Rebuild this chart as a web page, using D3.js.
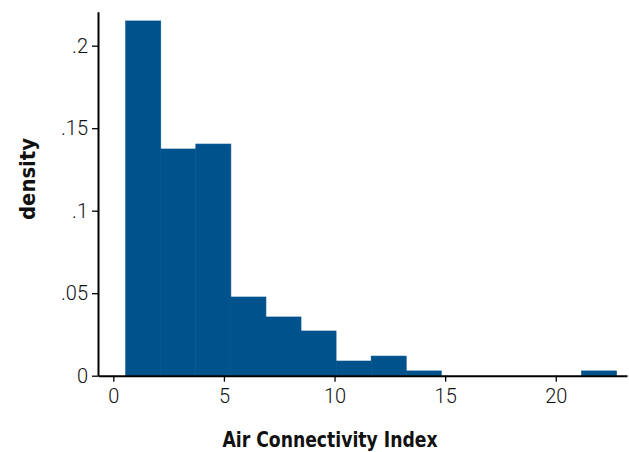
<!DOCTYPE html>
<html>
<head>
<meta charset="utf-8">
<script src="https://cdn.jsdelivr.net/npm/d3@7"></script>
<style>
  body { margin: 0; background: #fff; }
  .tick text { font-family: Roboto, "Open Sans", sans-serif; font-weight: 300; font-size: 20px; fill: #111; }
  .title { font-family: "DejaVu Sans Condensed", "Liberation Sans Narrow", sans-serif; font-stretch: condensed; font-weight: bold; font-size: 22px; fill: #111; }
</style>
</head>
<body>
<div id="chart"></div>
<script>
// histogram bins of the Air Connectivity Index
const binStart = 0.56;
const binWidth = 1.585;
const density = [0.215, 0.1374, 0.1404, 0.0477, 0.0356, 0.0271, 0.0089, 0.0119, 0.0029, 0, 0, 0, 0, 0.0029];
const xTicks = [0, 5, 10, 15, 20];
const yTicks = [0, 0.05, 0.1, 0.15, 0.2];
const yTickLabels = ["0", ".05", ".1", ".15", ".2"];

let width = 629,
    height = 452,
    barColor = "#00528c";

let svg = d3.select("#chart").append("svg")
    .attr("width", width)
    .attr("height", height);

/* Scales */
let xScale = d3.scaleLinear()
    .domain([-0.692, 23.22])
    .range([98, 627]);

let yScale = d3.scaleLinear()
    .domain([0, 0.2206])
    .range([375.7, 11.7]);

/* Bars */
let bins = density.map((d, i) => ({
  x0: binStart + i * binWidth,
  x1: binStart + (i + 1) * binWidth,
  value: d
}));

svg.append("g")
    .selectAll("rect")
    .data(bins.filter(d => d.value > 0)).enter()
    .append("rect")
    .attr("x", d => xScale(d.x0))
    .attr("width", d => xScale(d.x1) - xScale(d.x0))
    .attr("y", d => yScale(d.value))
    .attr("height", d => yScale(0) - yScale(d.value))
    .attr("fill", barColor)
    .attr("stroke", barColor)
    .attr("stroke-width", 0.6);

/* Axes */
let xAxis = d3.axisBottom(xScale).tickValues(xTicks).tickSize(6).tickPadding(7).tickSizeOuter(0);
let yAxis = d3.axisLeft(yScale).tickValues(yTicks).tickSize(6).tickPadding(4).tickSizeOuter(0)
    .tickFormat((d, i) => yTickLabels[i]);

let gx = svg.append("g")
    .attr("transform", `translate(0, ${yScale(0)})`)
    .call(xAxis);

let gy = svg.append("g")
    .attr("transform", `translate(${xScale.range()[0]}, 0)`)
    .call(yAxis);

[gx, gy].forEach(g => {
  g.select(".domain").attr("stroke", "#000").attr("stroke-width", 2);
  g.selectAll(".tick line").attr("stroke", "#000").attr("stroke-width", 1.3);
});

/* Titles */
svg.append("text")
    .attr("class", "title")
    .attr("text-anchor", "middle")
    .attr("x", 330)
    .attr("y", 447)
    .attr("textLength", 215)
    .attr("lengthAdjust", "spacingAndGlyphs")
    .text("Air Connectivity Index");

svg.append("text")
    .attr("class", "title")
    .attr("text-anchor", "middle")
    .attr("transform", "translate(35, 179) rotate(-90)")
    .attr("textLength", 82)
    .attr("lengthAdjust", "spacingAndGlyphs")
    .text("density");
</script>
</body>
</html>
